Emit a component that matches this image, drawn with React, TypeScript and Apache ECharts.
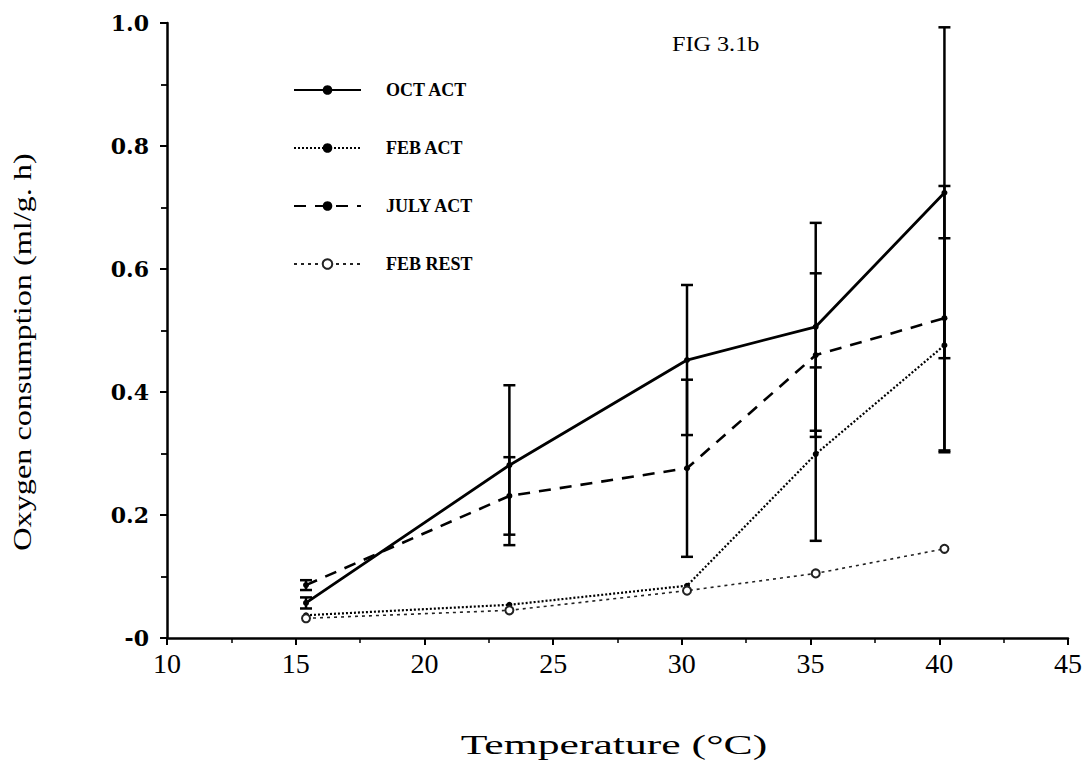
import React, { useEffect, useRef } from "react";
import * as echarts from "echarts";

const temps = [15.4, 23.3, 30.2, 35.2, 40.2];
const octAct = [0.057, 0.281, 0.452, 0.506, 0.724];
const octErr = [0.009, 0.13, 0.122, 0.169, 0.269];
const febAct = [0.037, 0.054, 0.085, 0.299, 0.476];
const febErr = [0, 0, 0, 0.141, 0.174];
const julyAct = [0.086, 0.231, 0.276, 0.46, 0.52];
const julyErr = [0.008, 0.063, 0.144, 0.133, 0.215];
const febRest = [0.032, 0.045, 0.077, 0.105, 0.145];

const xTicks = [10, 15, 20, 25, 30, 35, 40, 45];
const yTickLabels: Record<string, string> = { "0": "-0", "0.2": "0.2", "0.4": "0.4", "0.6": "0.6", "0.8": "0.8", "1": "1.0" };

const xTitle = "Temperature (°C)";
const yTitle = "Oxygen consumption (ml/g. h)";
const figTitle = "FIG 3.1b";

const FONT = "Liberation Serif";

function pairs(ys: number[]) {
  return temps.map((t, i) => [t, ys[i]]);
}

function errData(ys: number[], es: number[]) {
  return temps
    .map((t, i) => [t, ys[i] - es[i], ys[i] + es[i]])
    .filter((_, i) => es[i] > 0);
}

export default function App() {
  const ref = useRef<HTMLDivElement>(null);
  useEffect(() => {
    if (!ref.current) return;
    const chart = echarts.init(ref.current, undefined, { renderer: "svg" });

    const errSeries = (name: string, ys: number[], es: number[]) => ({
      type: "custom",
      name: name + " err",
      silent: true,
      z: 1,
      data: errData(ys, es),
      renderItem: (params: any, api: any) => {
        const x = api.value(0);
        const lo = api.coord([x, api.value(1)]);
        const hi = api.coord([x, api.value(2)]);
        const w = 6;
        const style = { stroke: "#000", lineWidth: 2.5 };
        return {
          type: "group",
          children: [
            { type: "line", shape: { x1: lo[0], y1: lo[1], x2: hi[0], y2: hi[1] }, style },
            { type: "line", shape: { x1: lo[0] - w, y1: lo[1], x2: lo[0] + w, y2: lo[1] }, style },
            { type: "line", shape: { x1: hi[0] - w, y1: hi[1], x2: hi[0] + w, y2: hi[1] }, style },
          ],
        };
      },
    });

    chart.setOption({
      animation: false,
      backgroundColor: "#fff",
      grid: { left: 167, right: 20, top: 23, bottom: 126, containLabel: false },
      xAxis: {
        type: "value",
        min: 10,
        max: 45,
        interval: 5,
        axisLine: { lineStyle: { color: "#000", width: 2.5 } },
        axisTick: { show: true, length: 7, lineStyle: { color: "#000", width: 2 } },
        minorTick: { show: true, splitNumber: 2, length: 5, lineStyle: { color: "#000", width: 1.5 } },
        splitLine: { show: false },
        axisLabel: {
          fontFamily: FONT,
          fontSize: 28,
          color: "#000",
          margin: 11,
          formatter: (v: number) => (xTicks.includes(v) ? String(v) : ""),
        },
      },
      yAxis: {
        type: "value",
        min: 0,
        max: 1,
        interval: 0.2,
        axisLine: { show: true, lineStyle: { color: "#000", width: 2.5 } },
        axisTick: { show: true, length: 7, lineStyle: { color: "#000", width: 2 } },
        minorTick: { show: true, splitNumber: 2, length: 6, lineStyle: { color: "#000", width: 1.8 } },
        splitLine: { show: false },
        axisLabel: {
          fontFamily: "DejaVu Serif",
          fontSize: 22,
          fontWeight: "bold",
          color: "#000",
          margin: 18,
          formatter: (v: number) => yTickLabels[String(Math.round(v * 10) / 10)] ?? "",
        },
      },
      legend: {
        orient: "vertical",
        left: 288,
        top: 76,
        itemWidth: 67,
        itemHeight: 12,
        itemGap: 40,
        textStyle: { fontFamily: FONT, fontSize: 18, fontWeight: "bold", color: "#000", padding: [0, 0, 0, 20] },
        data: [
          { name: "OCT ACT" },
          { name: "FEB ACT" },
          { name: "JULY ACT" },
          { name: "FEB REST" },
        ],
      },
      graphic: [
        {
          type: "text",
          x: 672,
          y: 32,
          scaleX: 1.1,
          style: { text: figTitle, fontFamily: FONT, fontSize: 22, fill: "#000" },
        },
        {
          type: "text",
          x: 614,
          y: 744,
          scaleX: 1.56,
          style: {
            text: xTitle,
            fontFamily: FONT,
            fontSize: 28,
            fill: "#000",
            align: "center",
            verticalAlign: "middle",
          },
        },
        {
          type: "text",
          x: 22,
          y: 352,
          rotation: Math.PI / 2,
          scaleX: 1.24,
          style: {
            text: yTitle,
            fontFamily: FONT,
            fontSize: 26,
            fill: "#000",
            align: "center",
            verticalAlign: "middle",
          },
        },
      ],
      series: [
        errSeries("OCT ACT", octAct, octErr),
        errSeries("JULY ACT", julyAct, julyErr),
        errSeries("FEB ACT", febAct, febErr),
        {
          name: "OCT ACT",
          type: "line",
          data: pairs(octAct),
          z: 3,
          symbol: "circle",
          symbolSize: 6,
          itemStyle: { color: "#000" },
          lineStyle: { color: "#000", width: 2.8, type: "solid" },
        },
        {
          name: "FEB ACT",
          type: "line",
          data: pairs(febAct),
          z: 3,
          symbol: "circle",
          symbolSize: 6,
          itemStyle: { color: "#000" },
          lineStyle: { color: "#000", width: 2.2, type: [2, 2] },
        },
        {
          name: "JULY ACT",
          type: "line",
          data: pairs(julyAct),
          z: 3,
          symbol: "circle",
          symbolSize: 6,
          itemStyle: { color: "#000" },
          lineStyle: { color: "#000", width: 2.6, type: [12, 9] },
        },
        {
          name: "FEB REST",
          type: "line",
          data: pairs(febRest),
          z: 3,
          symbol: "emptyCircle",
          symbolSize: 8,
          itemStyle: { color: "#222", borderWidth: 1.5 },
          lineStyle: { color: "#222", width: 1.6, type: [3, 4] },
        },
      ],
    });
    return () => chart.dispose();
  }, []);
  return (
    <div
      ref={ref}
      style={{ position: "fixed", left: 0, top: 0, width: 1088, height: 764 }}
    />
  );
}
